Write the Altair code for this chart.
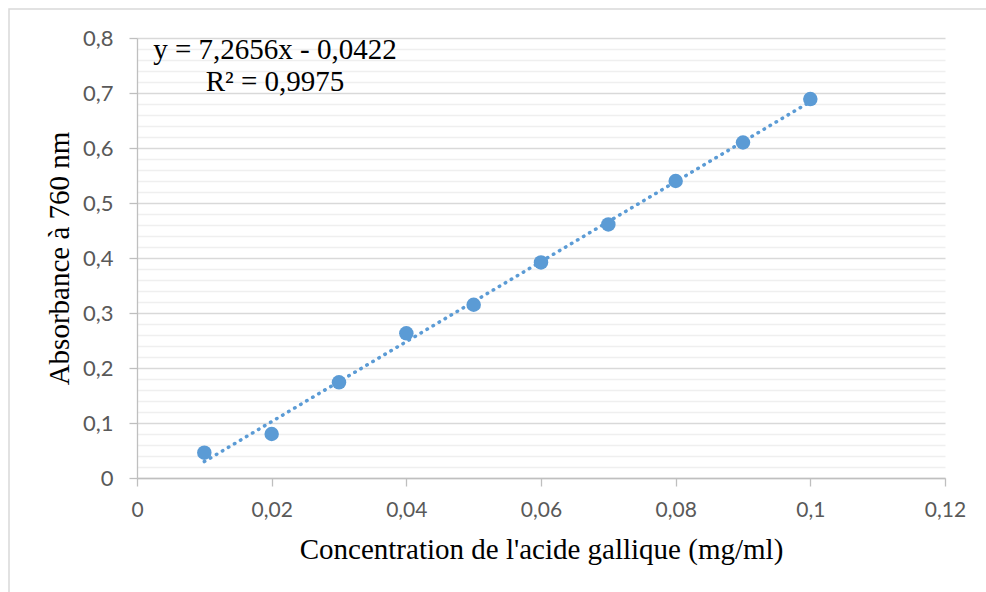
import altair as alt
import pandas as pd

# Data
concentration = [0.01, 0.02, 0.03, 0.04, 0.05, 0.06, 0.07, 0.08, 0.09, 0.10]
absorbance = [0.046, 0.080, 0.174, 0.263, 0.315, 0.392, 0.461, 0.540, 0.610, 0.689]

x_ticks = [0, 0.02, 0.04, 0.06, 0.08, 0.10, 0.12]
y_ticks = [0, 0.02, 0.04, 0.06, 0.08, 0.1, 0.12, 0.14, 0.16, 0.18,
           0.2, 0.22, 0.24, 0.26, 0.28, 0.3, 0.32, 0.34, 0.36, 0.38,
           0.4, 0.42, 0.44, 0.46, 0.48, 0.5, 0.52, 0.54, 0.56, 0.58,
           0.6, 0.62, 0.64, 0.66, 0.68, 0.7, 0.72, 0.74, 0.76, 0.78, 0.8]

equation_lines = ["y = 7,2656x - 0,0422", "R² = 0,9975"]

x_title = "Concentration de l'acide gallique (mg/ml)"
y_title = "Absorbance à 760 nm"

df = pd.DataFrame({"conc": concentration, "abs": absorbance})

W, H = 808, 440
PAD_L, PAD_T, PAD_R, PAD_B = 137, 38, 41, 114

major_test = "abs(datum.value*10 - round(datum.value*10)) < 1e-6"
comma_fmt = "replace(format(datum.value, '~g'), '.', ',')"

LABEL_FONT = "Lato"
TITLE_FONT = "Liberation Serif"

x_enc = alt.X(
    "conc:Q",
    scale=alt.Scale(domain=[0, 0.12], nice=False, zero=True),
    axis=alt.Axis(
        values=x_ticks,
        tickCount=100,
        labelExpr=comma_fmt,
        labelOverlap=False,
        labelFlush=False,
        grid=False,
        title=x_title,
        titleFont=TITLE_FONT,
        titleFontSize=29,
        titleFontWeight="normal",
        titleColor="#000000",
        titlePadding=15,
        labelFont=LABEL_FONT,
        labelFontSize=21,
        labelColor="#595959",
        labelPadding=13,
        tickSize=8,
        tickColor="#bfbfbf",
        domainColor="#bfbfbf",
        domainWidth=1.3,
        tickWidth=1.3,
    ),
)

y_enc = alt.Y(
    "abs:Q",
    scale=alt.Scale(domain=[0, 0.8], nice=False),
    axis=alt.Axis(
        values=y_ticks,
        tickCount=100,
        labelExpr=major_test + " ? " + comma_fmt + " : ''",
        labelOverlap=False,
        labelFlush=False,
        grid=True,
        gridColor={"condition": {"test": major_test, "value": "#d9d9d9"}, "value": "#efefef"},
        gridWidth=1.3,
        title=y_title,
        titleFont=TITLE_FONT,
        titleFontSize=29,
        titleFontWeight="normal",
        titleColor="#000000",
        titlePadding=8,
        labelFont=LABEL_FONT,
        labelFontSize=22,
        labelColor="#595959",
        labelPadding=16,
        tickSize=8,
        tickColor={"condition": {"test": major_test, "value": "#bfbfbf"}, "value": "transparent"},
        tickWidth=1.3,
        domainColor="#bfbfbf",
        domainWidth=1.3,
    ),
)

base = alt.Chart(df)

points = base.mark_circle(size=210, color="#5b9bd5", opacity=1).encode(x=x_enc, y=y_enc)

trend = base.transform_regression("conc", "abs").mark_line(
    color="#5b9bd5", strokeWidth=3.5, strokeDash=[0.5, 6.5], strokeCap="round"
).encode(x="conc:Q", y="abs:Q")

eq_layers = []
for i, line in enumerate(equation_lines):
    eq_layers.append(
        alt.Chart(pd.DataFrame({"label": [line]})).mark_text(
            font=TITLE_FONT, fontSize=29, color="#000000", align="center", baseline="middle"
        ).encode(text="label:N", x=alt.value(138), y=alt.value(12 + 32 * i))
    )

border = alt.Chart(pd.DataFrame({"k": [0]})).mark_rect(
    fill="transparent", stroke="#d9d9d9", strokeWidth=1.5
).encode(
    x=alt.value(-128), x2=alt.value(W + PAD_R + 200),
    y=alt.value(-29), y2=alt.value(H + PAD_B + 200),
)

chart = alt.layer(border, trend, points, *eq_layers).properties(
    width=W,
    height=H,
    autosize=alt.AutoSizeParams(type="none"),
    padding={"left": PAD_L, "top": PAD_T, "right": PAD_R, "bottom": PAD_B},
    background="white",
).configure_view(stroke=None)

chart.save("out.html", embed_options={"renderer": "svg", "actions": False})
